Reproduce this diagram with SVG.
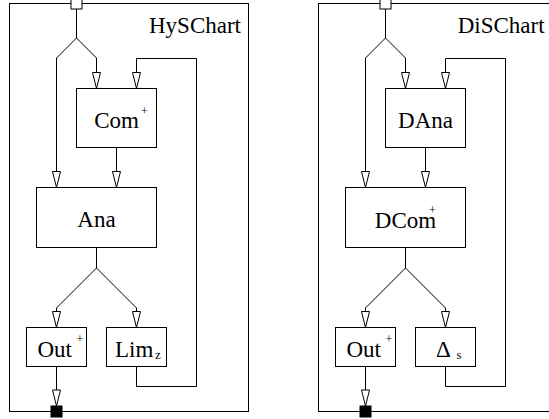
<svg xmlns="http://www.w3.org/2000/svg" width="549" height="419" viewBox="0 0 549 419">
<style>
.box{fill:#fff;stroke:#000;stroke-width:1}
.frame{fill:none;stroke:#000;stroke-width:1}
.ln{fill:none;stroke:#000;stroke-width:1;marker-end:url(#arr)}
.t{font-family:'Liberation Serif','Times New Roman',Tinos,'DejaVu Serif',serif;font-size:23px;fill:#000}
.sup{font-family:'Liberation Serif','Times New Roman',Tinos,'DejaVu Serif',serif;font-size:12px;fill:#000}
.sub{font-family:'Liberation Serif','Times New Roman',Tinos,'DejaVu Serif',serif;font-size:13px;fill:#000}
.inport{fill:#fff;stroke:#000;stroke-width:1}
.outport{fill:#000;stroke:#000;stroke-width:1}
</style>
<defs>
<marker id="arr" markerUnits="userSpaceOnUse" markerWidth="18" markerHeight="10" refX="16.5" refY="4.5" orient="auto" viewBox="-0.5 0 18 9">
<path d="M0.5,0.5 L16.5,4.5 L0.5,8.5 Z" fill="#fff" stroke="#000" stroke-width="1"/>
</marker>
</defs>

<!-- Left: HySChart -->
<g id="hyschart">
<rect class="frame" x="9.5" y="3.5" width="239" height="408"/>
<text class="t" x="149" y="33" font-family="Liberation Serif, serif">HySChart</text>
</g>
<g id="hys-connectors">
<path class="ln" d="M76.5,8.5 V38 L56.5,58 V187.5"/>
<path class="ln" d="M76.5,38 L96.5,58 V88.5"/>
<path class="ln" d="M116.5,147.5 V187.5"/>
<path class="ln" d="M136.5,366.5 V386.5 H196.5 V58.5 H136.5 V88.5"/>
<path class="ln" d="M96.5,247.5 V268 L56.5,308 V327.5"/>
<path class="ln" d="M96.5,268 L136.5,308 V327.5"/>
<path class="ln" d="M56.5,366.5 V406"/>
</g>
<g id="hys-in"><rect class="inport" x="71" y="-2" width="11" height="11"/></g>
<g id="hys-out"><rect class="outport" x="51" y="406" width="11" height="11"/></g>
<g id="hys-com">
<rect class="box" x="76.5" y="88.5" width="80" height="59"/>
<text class="t" x="116.5" y="128" text-anchor="middle">Com</text>
<text class="sup" x="141" y="115">+</text>
</g>
<g id="hys-ana">
<rect class="box" x="36.5" y="187.5" width="120" height="60"/>
<text class="t" x="96.5" y="227" text-anchor="middle">Ana</text>
</g>
<g id="hys-outnode">
<rect class="box" x="26.5" y="327.5" width="60" height="39"/>
<text class="t" x="37.5" y="357">Out</text>
<text class="sup" x="76.5" y="343">+</text>
</g>
<g id="hys-lim">
<rect class="box" x="106.5" y="327.5" width="60" height="39"/>
<text class="t" x="115" y="357">Lim</text>
<text class="sub" x="155" y="359">z</text>
</g>

<!-- Right: DiSChart -->
<g id="dischart">
<rect class="frame" x="318.5" y="3.5" width="239" height="408"/>
<text class="t" x="457.7" y="33">DiSChart</text>
</g>
<g id="dis-connectors">
<path class="ln" d="M385.5,8.5 V38 L365.5,58 V187.5"/>
<path class="ln" d="M385.5,38 L405.5,58 V88.5"/>
<path class="ln" d="M425.5,147.5 V187.5"/>
<path class="ln" d="M445.5,366.5 V386.5 H505.5 V58.5 H445.5 V88.5"/>
<path class="ln" d="M405.5,247.5 V268 L365.5,308 V327.5"/>
<path class="ln" d="M405.5,268 L445.5,308 V327.5"/>
<path class="ln" d="M365.5,366.5 V406"/>
</g>
<g id="dis-in"><rect class="inport" x="380" y="-2" width="11" height="11"/></g>
<g id="dis-out"><rect class="outport" x="360" y="406" width="11" height="11"/></g>
<g id="dis-dana">
<rect class="box" x="385.5" y="88.5" width="80" height="59"/>
<text class="t" x="425.5" y="128" text-anchor="middle">DAna</text>
</g>
<g id="dis-dcom">
<rect class="box" x="345.5" y="187.5" width="120" height="60"/>
<text class="t" x="405.5" y="227.5" text-anchor="middle">DCom</text>
<text class="sup" x="429" y="214">+</text>
</g>
<g id="dis-outnode">
<rect class="box" x="335.5" y="327.5" width="60" height="39"/>
<text class="t" x="346.5" y="357">Out</text>
<text class="sup" x="385.5" y="343">+</text>
</g>
<g id="dis-delta">
<rect class="box" x="415.5" y="327.5" width="60" height="39"/>
<text class="t" x="436" y="357">Δ</text>
<text class="sub" x="456.5" y="359">s</text>
</g>
</svg>
